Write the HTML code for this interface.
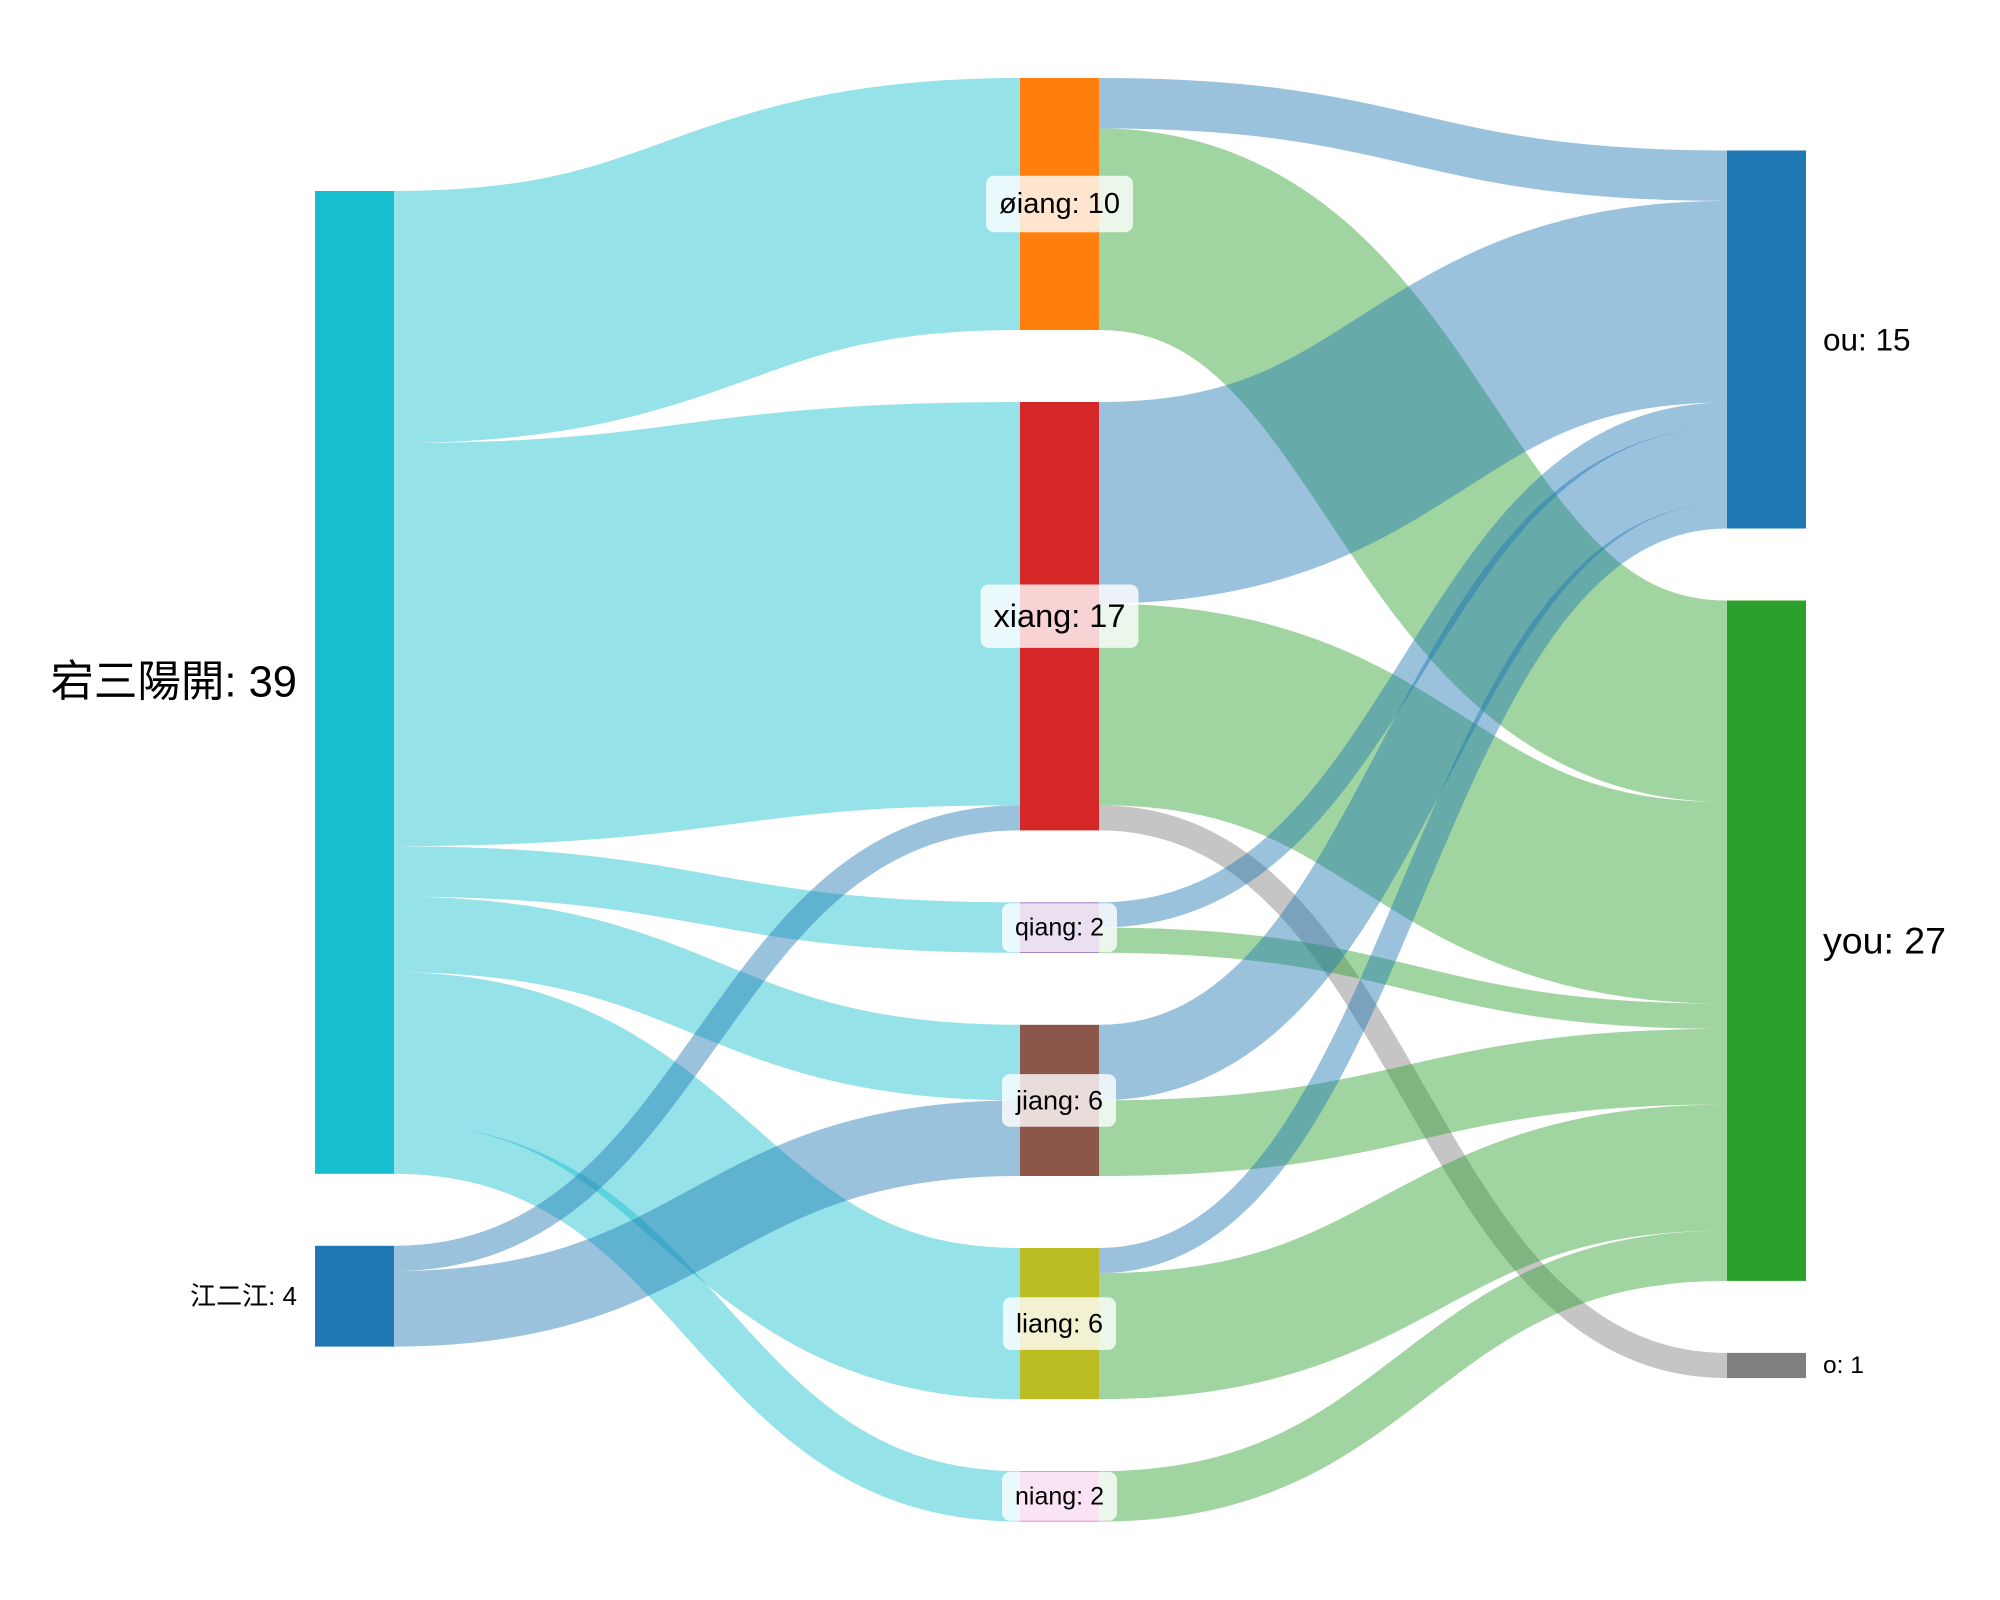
<!DOCTYPE html>
<html><head><meta charset="utf-8"><style>
html,body{margin:0;padding:0;background:#fff;}
svg{display:block;font-family:"Liberation Sans","Noto Sans CJK TC",sans-serif;}
</style></head><body>
<svg id="chart" width="2000" height="1600" viewBox="0 0 2000 1600" xmlns="http://www.w3.org/2000/svg">
<g id="links"></g>
<g id="nodes"></g>
<g id="labels"></g>
</svg>
<script>
const nodeNames = ["宕三陽開","江二江","øiang","xiang","qiang","jiang","liang","niang","ou","you","o"];
const nodeColumns = [0,0,1,1,1,1,1,1,2,2,2];
const nodeColors = ["#17becf","#1f77b4","#ff7f0e","#d62728","#9467bd","#8c564b","#bcbd22","#e377c2","#1f77b4","#2ca02c","#7f7f7f"];
const linkSources = [0,0,0,0,0,0,1,1,2,2,3,3,3,4,4,5,5,6,6,7];
const linkTargets = [2,3,4,5,6,7,3,5,8,9,8,9,10,8,9,8,9,8,9,9];
const linkValues  = [10,16,2,3,6,2,1,3,2,8,8,8,1,1,1,3,3,1,5,2];

const NS="http://www.w3.org/2000/svg";
const K=25.2, PAD=72, NW=79;
const colX=[315,1020,1727];
const colY0=[191,78,150.5];

// node values
const val=nodeNames.map(()=>0), inV=nodeNames.map(()=>0), outV=nodeNames.map(()=>0);
linkValues.forEach((v,i)=>{outV[linkSources[i]]+=v; inV[linkTargets[i]]+=v;});
nodeNames.forEach((n,i)=>{val[i]=Math.max(inV[i],outV[i]);});
// node positions
const ny=[], nh=[];
const cursor=colY0.slice();
nodeNames.forEach((n,i)=>{const c=nodeColumns[i]; ny[i]=cursor[c]; nh[i]=val[i]*K; cursor[c]+=nh[i]+PAD;});
// link positions (order by target/source index)
const sOff=ny.slice(), tOff=ny.slice();
const idx=linkValues.map((v,i)=>i);
const sy=[], ty=[];
idx.slice().sort((a,b)=>linkSources[a]-linkSources[b]||linkTargets[a]-linkTargets[b]).forEach(i=>{
  sy[i]=sOff[linkSources[i]]+linkValues[i]*K/2; sOff[linkSources[i]]+=linkValues[i]*K;});
idx.slice().sort((a,b)=>linkTargets[a]-linkTargets[b]||linkSources[a]-linkSources[b]).forEach(i=>{
  ty[i]=tOff[linkTargets[i]]+linkValues[i]*K/2; tOff[linkTargets[i]]+=linkValues[i]*K;});

const gL=document.getElementById('links');
idx.forEach(i=>{
  const s=linkSources[i], t=linkTargets[i];
  const x1=colX[nodeColumns[s]]+NW, x2=colX[nodeColumns[t]], xm=(x1+x2)/2;
  const p=document.createElementNS(NS,'path');
  p.setAttribute('d',`M${x1},${sy[i]} C${xm},${sy[i]} ${xm},${ty[i]} ${x2},${ty[i]}`);
  p.setAttribute('fill','none');
  p.setAttribute('stroke',nodeColumns[s]===0?nodeColors[s]:nodeColors[t]);
  p.setAttribute('stroke-opacity','0.45');
  p.setAttribute('stroke-width',linkValues[i]*K);
  
  
  gL.appendChild(p);
});
const gN=document.getElementById('nodes'), gT=document.getElementById('labels');
nodeNames.forEach((n,i)=>{
  const c=nodeColumns[i], x=colX[c];
  const r=document.createElementNS(NS,'rect');
  r.setAttribute('x',x);r.setAttribute('y',ny[i]);r.setAttribute('width',NW);r.setAttribute('height',nh[i]);
  r.setAttribute('fill',nodeColors[i]);
  
  
  gN.appendChild(r);
  const fs=24+0.5*val[i], cy=ny[i]+nh[i]/2;
  const t=document.createElementNS(NS,'text');
  t.textContent=n+': '+val[i];
  t.setAttribute('font-size',fs);
  t.setAttribute('dominant-baseline','central');
  t.setAttribute('y',cy);
  
  
  if(c===0){t.setAttribute('x',x-18);t.setAttribute('text-anchor','end');gT.appendChild(t);}
  else if(c===2){t.setAttribute('x',x+NW+17);gT.appendChild(t);}
  else{
    t.setAttribute('x',x+NW/2);t.setAttribute('text-anchor','middle');
    gT.appendChild(t);
    const bb=t.getBBox();
    const b=document.createElementNS(NS,'rect');
    const h=fs*1.95;
    b.setAttribute('x',bb.x-13);b.setAttribute('y',cy-h/2);b.setAttribute('width',bb.width+26);b.setAttribute('height',h);
    b.setAttribute('rx',8);b.setAttribute('fill','#fff');b.setAttribute('fill-opacity','0.8');
    
    
    gT.insertBefore(b,t);
  }
});
</script>
</body></html>
